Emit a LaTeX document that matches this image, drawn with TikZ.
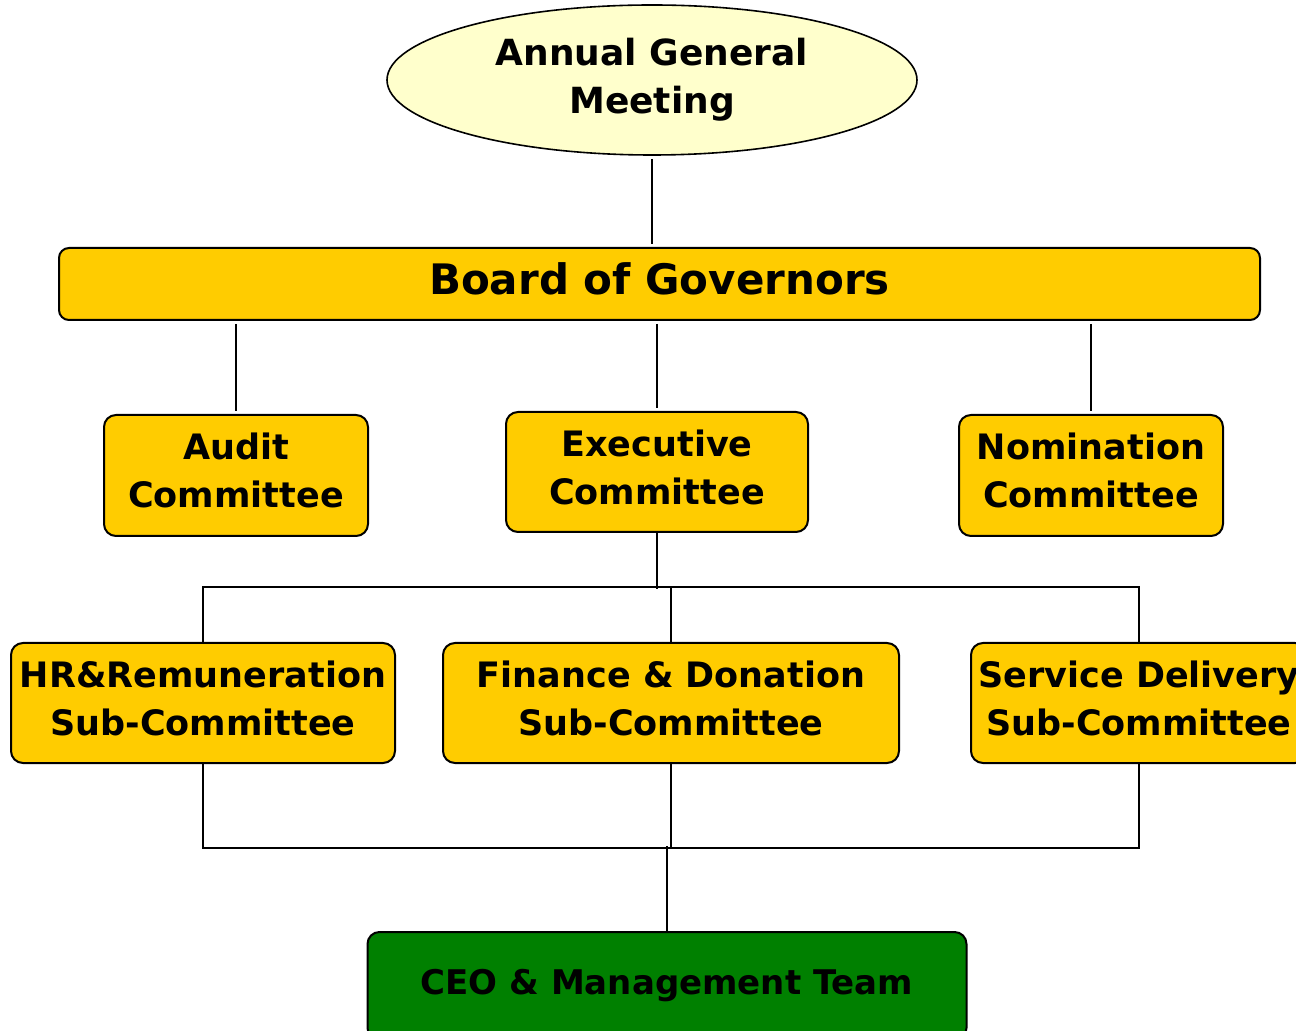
\documentclass[tikz,border=0pt]{standalone}
\usepackage{fontspec}
\setmainfont{DejaVu Sans}
\usetikzlibrary{shapes.geometric}
\definecolor{gold}{RGB}{255,204,0}
\definecolor{cream}{RGB}{255,255,204}
\definecolor{leaf}{RGB}{0,128,0}

\begin{document}
\begin{tikzpicture}[x=0.5pt,y=-0.5pt,
  card/.style={draw,line width=1pt,rounded corners=6pt,align=center,inner sep=0pt},
  box/.style={card,fill=gold,text depth=5pt,font=\bfseries\fontsize{17.5}{24}\selectfont},
  link/.style={line width=0.8pt,shorten <=1.5pt,shorten >=1.5pt},
  tree/.style={line width=0.9pt}]
\useasboundingbox (0,0) rectangle (1296,1031);
\clip (0,0) rectangle (1296,1031);

\node [draw,ellipse,line width=0.8pt,fill=cream,inner sep=0pt,minimum width=265pt,minimum height=75pt,align=center,
  font=\bfseries\fontsize{18}{24}\selectfont] (agm) at (652,80) {Annual General\\Meeting};
\node [box,rounded corners=5pt,minimum width=600.5pt,minimum height=36pt,font=\bfseries\fontsize{21}{24}\selectfont] (board) at (659.5,284) {Board of Governors};

\node [box,minimum width=132pt,minimum height=60.5pt] (audit) at (236,475.5) {Audit\\Committee};
\node [box,minimum width=151pt,minimum height=60pt] (exec) at (657,472) {Executive\\Committee};
\node [box,minimum width=132pt,minimum height=60.5pt] (nom) at (1091,475.5) {Nomination\\Committee};

\node [box,minimum width=192pt,minimum height=60pt] (hr) at (203,703) {HR\&Remuneration\\Sub-Committee};
\node [box,minimum width=228pt,minimum height=60pt] (fin) at (671,703) {Finance \& Donation\\Sub-Committee};
\node [box,minimum width=168pt,minimum height=60pt] (svc) at (1139,703) {Service Delivery\\Sub-Committee};

\node [card,fill=leaf,minimum width=299.5pt,minimum height=54pt,font=\bfseries\fontsize{17}{24}\selectfont] (ceo) at (667,986) {CEO \& Management Team};

\draw [link] (agm.south) -- (board.north -| agm.south);
\draw [link] (board.south -| audit.north) -- (audit.north);
\draw [link] (board.south -| exec.north) -- (exec.north);
\draw [link] (board.south -| nom.north) -- (nom.north);

\draw [tree] (exec.south) -- ++(0,56);
\draw [tree] (hr.north) -- ++(0,-55) -| (svc.north);
\draw [tree] (fin.north) -- ++(0,-55);

\draw [tree] (hr.south) -- ++(0,84) -| (svc.south);
\draw [tree] (fin.south) -- ++(0,84);
\draw [tree] (ceo.north) -- ++(0,-85);

\end{tikzpicture}
\end{document}
